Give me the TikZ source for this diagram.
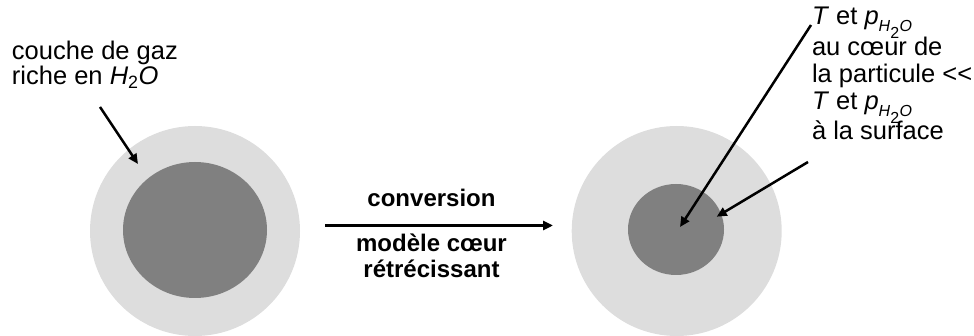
\documentclass[tikz,border=0pt]{standalone}
\usepackage{fontspec}
\setmainfont{Liberation Sans}
\usetikzlibrary{arrows.meta}
\definecolor{shell}{HTML}{DDDDDD}
\definecolor{core}{HTML}{808080}
\newcommand{\phto}{\textit{p}\raisebox{-6.5pt}[10pt][0pt]{\fontsize{16}{16}\selectfont\textit{H}\raisebox{-7pt}{2}\kern0.5pt\textit{O}}}
\begin{document}
\begin{tikzpicture}[x=1pt,y=-1pt,
  lbl/.style={inner sep=0pt,outer sep=0pt,font=\fontsize{25.5}{25}\selectfont},
  blbl/.style={inner sep=0pt,outer sep=0pt,font=\fontsize{24}{26}\selectfont\bfseries},
  arr/.style={line width=2.5pt,-{Triangle[length=10pt,width=9pt]}},
  ]
\useasboundingbox (0,0) rectangle (974,336);
% left particle
\fill[shell] (195,231) circle[radius=105];
\fill[core] (195,230) ellipse[x radius=72,y radius=68];
% right particle
\fill[shell] (676.7,231) circle[radius=105];
\fill[core] (676,229.5) ellipse[x radius=48,y radius=45.5];
% labels
\node[lbl,anchor=base west,align=left] (gaz) at (12,85)
  {couche de gaz\\riche en \textit{H}\textsubscript{2}\textit{O}};
\node[blbl,anchor=base] (conv) at (431.5,206.7) {conversion};
\node[blbl,anchor=base,align=center] (mod) at (431.5,278)
  {modèle cœur\\rétrécissant};
\node[lbl,anchor=base west,align=left,font=\fontsize{25.5}{27}\selectfont] (tp) at (812,140)
  {\textit{T} et \phto\\[4pt]
   au cœur de\\
   la particule \mbox{<}\mbox{<}\\
   \textit{T} et \phto\\[3pt]
   à la surface};
% connector ends
\coordinate (a1s) at (100,107);
\coordinate (a1e) at (138,164);
\coordinate (cs) at (325,225.5);
\coordinate (ce) at (553,225.5);
\coordinate (a2s) at (811,25);
\coordinate (a2e) at (680,227);
\coordinate (a3s) at (808,162);
\coordinate (a3e) at (716.7,216.7);
\draw[arr] (a1s) -- (a1e);
\draw[arr] (cs) -- (ce);
\draw[arr] (a2s) -- (a2e);
\draw[arr] (a3s) -- (a3e);
\end{tikzpicture}
\end{document}
